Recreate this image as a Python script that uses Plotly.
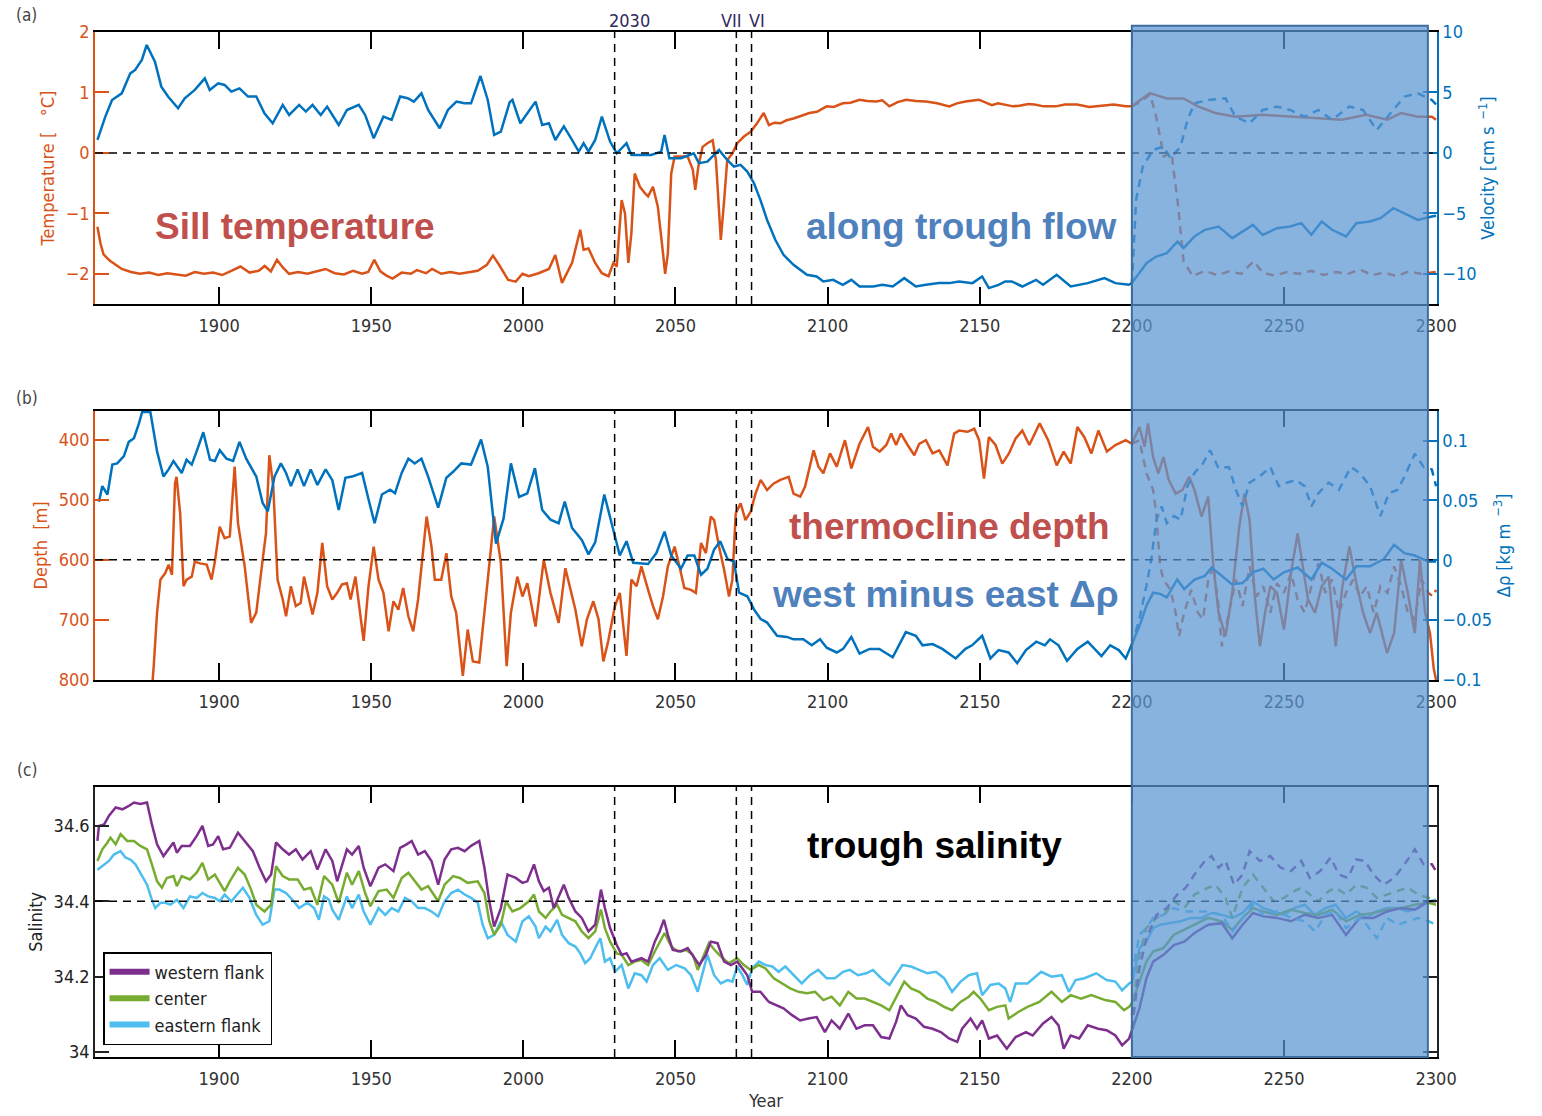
import plotly.graph_objects as go

ORANGE = '#D95319'
BLUE = '#0072BD'
PURPLE = '#7E2F8E'
GREEN = '#77AC30'
CYAN = '#4DBEEE'
TXT_RED = '#C0504D'
TXT_BLUE = '#4F81BD'
NARROW = "Liberation Sans Narrow, DejaVu Sans Condensed, Liberation Sans, sans-serif"
BOLD = "Liberation Sans, Arial, sans-serif"

X_TICKS = [1900, 1950, 2000, 2050, 2100, 2150, 2200, 2250, 2300]
EVENT_YEARS = [2030, 2070, 2075]
EVENT_LABELS = ["2030", "VII", "VI"]

# ---------------- panel (a): sill temperature (degC) ----------------
temp_years = [1860, 1861, 1862, 1864, 1866, 1868, 1871, 1874, 1877, 1880, 1883, 1886, 1889, 1892, 1895, 1898,
              1901, 1904, 1907, 1910, 1913, 1915, 1917, 1919, 1921, 1923, 1926, 1929, 1932, 1935, 1938, 1941,
              1944, 1947, 1949, 1951, 1953, 1955, 1957, 1960, 1963, 1965, 1968, 1970, 1973, 1976, 1979, 1982,
              1985, 1988, 1990, 1992, 1995, 1997.5, 1999.7, 2001.8, 2005, 2008.4, 2010.5, 2012.7, 2016, 2018.7,
              2019.8, 2021.4, 2023.6, 2025.8, 2028, 2029.6, 2030.7, 2032.3, 2033.4, 2034.5, 2035.5, 2036.6,
              2038.3, 2040, 2041, 2042.6, 2044.2, 2045.9, 2046.6, 2047.5, 2048.6, 2049.7, 2051.8, 2054, 2055.7,
              2056.5, 2057.5, 2058.9, 2060.5, 2062.2, 2063.3, 2064, 2064.9, 2066, 2067, 2068.7, 2070.3, 2072.5,
              2074.7, 2076.8, 2079, 2080.7, 2082.5, 2084.5, 2086.5, 2088.8, 2091, 2094, 2096.5, 2099.7, 2102,
              2105, 2107.5, 2110.5, 2113, 2116, 2118, 2120.3, 2123, 2125.8, 2129, 2132.3, 2136, 2140, 2142.5,
              2145.3, 2149.7, 2154, 2156, 2158, 2161, 2163, 2166, 2168, 2171, 2175, 2178, 2182, 2186, 2190, 2194,
              2198, 2200, 2205.9, 2211.5, 2217, 2221.7, 2227.4, 2234, 2243, 2252, 2260, 2269, 2277, 2284, 2288.5,
              2294, 2298.6, 2300]
temp_vals = [-1.22, -1.5, -1.68, -1.78, -1.85, -1.92, -1.97, -2.0, -1.98, -2.02, -1.99, -2.01, -2.03, -1.97, -2.0, -1.98,
             -2.02, -1.95, -1.88, -1.98, -1.95, -1.87, -1.96, -1.77, -1.9, -2.0, -1.97, -2.0, -1.96, -1.92, -1.99, -2.01,
             -1.95, -2.0, -1.97, -1.77, -1.96, -2.03, -2.08, -1.98, -2.0, -1.94, -1.99, -1.92, -2.0, -1.97, -2.0, -1.98,
             -1.95, -1.85, -1.7, -1.85, -2.1, -2.13, -2.0, -2.04, -1.99, -1.92, -1.69, -2.15, -1.82, -1.27,
             -1.6, -1.58, -1.82, -1.99, -2.04, -1.82, -1.88, -0.78, -1.0, -1.82, -1.33, -0.34,
             -0.56, -0.67, -0.72, -0.56, -0.89, -1.66, -2.0, -1.66, -0.34, -0.06, -0.06, -0.06, -0.28,
             -0.61, -0.23, 0.10, 0.16, 0.21, -0.12, -0.78, -1.44, -0.78, -0.12, -0.01, 0.16, 0.27,
             0.35, 0.49, 0.66, 0.46, 0.50, 0.49, 0.54, 0.57, 0.61, 0.66, 0.68, 0.77, 0.76,
             0.82, 0.83, 0.88, 0.86, 0.85, 0.87, 0.77, 0.84, 0.88, 0.86, 0.85, 0.82, 0.77, 0.82,
             0.85, 0.88, 0.79, 0.82, 0.80, 0.77, 0.78, 0.81, 0.80, 0.77, 0.77, 0.80, 0.80, 0.76, 0.78, 0.80,
             0.77, 0.77, 0.99, 0.90, 0.90, 0.77, 0.66, 0.60, 0.63, 0.60, 0.57, 0.55, 0.63, 0.55, 0.66,
             0.60, 0.60, 0.55]

temp_alt_years = [2200, 2203, 2206, 2208, 2210.5, 2213, 2215, 2217, 2220, 2224, 2228, 2232, 2236, 2240, 2243, 2247,
                  2251, 2255, 2259, 2263, 2267, 2271, 2275, 2279, 2283, 2287, 2291, 2295, 2300]
temp_alt_vals = [0.77, 0.85, 0.97, 0.6, -0.06, 0.0, -0.78, -1.79, -2.04, -1.95, -2.02, -1.96, -2.0, -1.79, -1.98, -2.03,
                 -1.97, -2.0, -1.95, -2.02, -1.97, -2.0, -1.93, -2.02, -1.98, -2.04, -1.96, -2.0, -1.97]

# ---------------- panel (a): along trough velocity (cm/s) ----------------
vel_years = [1860, 1862.6, 1864.8, 1868, 1870.8, 1872.4, 1874.6, 1876.2, 1878.9, 1881, 1883.2, 1886.5, 1888.7, 1892,
             1895.3, 1896.9, 1899.7, 1901.8, 1904, 1906.7, 1909.5, 1912.2, 1914.9, 1917.6, 1920.9, 1923, 1926.3,
             1928.5, 1930.7, 1933.4, 1935.5, 1939.3, 1942, 1945.9, 1948, 1950.8, 1954, 1956.7, 1959.5, 1962, 1964,
             1966.5, 1968.7, 1972.5, 1975.2, 1978, 1980.6, 1982.8, 1985.9, 1988.3, 1990.4, 1992.6, 1995.5, 1996.4,
             1999, 2001.3, 2004, 2006.2, 2008.4, 2010.5, 2013.3, 2016, 2018.2, 2019.8, 2021.4, 2023.6, 2025.8,
             2028.5, 2030.7, 2033.9, 2035.5, 2038.8, 2042, 2045.3, 2046.4, 2048, 2051.8, 2056, 2057.7, 2060.5,
             2062.7, 2064.3, 2067, 2069.2, 2071.4, 2073.6, 2075.8, 2077.9, 2080.1, 2082.8, 2085.5, 2088.8, 2093.2,
             2096.4, 2098.6, 2101.8, 2105, 2107.8, 2110.5, 2115, 2118, 2121.4, 2125.2, 2129, 2132.3, 2136.6, 2140,
             2143.2, 2147.6, 2150.8, 2153, 2156.2, 2158.4, 2160.5, 2164, 2168.5, 2170.8, 2175.3, 2179.9, 2185.5,
             2191, 2194.6, 2199, 2200, 2204.8, 2208, 2211.5, 2215, 2217, 2220.6, 2224, 2228.5, 2233, 2239.8, 2243,
             2247.7, 2252, 2255.7, 2259, 2262.4, 2265.8, 2270.4, 2273.8, 2278.3, 2281.7, 2286, 2290.6, 2294,
             2298.6, 2300]
vel_vals = [1.07, 3.0, 4.38, 4.93, 6.58, 6.86, 7.69, 8.93, 7.55, 5.48, 4.66, 3.69, 4.52, 5.21,
            6.17, 5.21, 5.76, 5.62, 5.07, 5.34, 4.66, 4.66, 3.28, 2.45, 3.97, 3.14, 3.97,
            3.42, 3.97, 3.14, 3.83, 2.31, 3.55, 3.97, 3.14, 1.21, 3.0, 2.73, 4.66, 4.52, 4.24,
            4.93, 3.55, 2.04, 3.55, 4.24, 4.1, 4.1, 6.36, 4.38, 1.49, 1.76, 4.2, 4.38,
            2.45, 3.28, 4.24, 2.31, 2.45, 1.07, 2.2, 1.07, 0.11, 0.8, 0.11, 1.07, 3.0,
            0.94, -0.03, 0.8, -0.17, -0.17, -0.17, 0.11, 1.49, -0.44, -0.44, -0.03, -0.85, -0.72,
            -0.17, 0.25, -0.58, -1.13, -0.99, -1.54, -2.51, -3.88, -5.54, -7.19, -8.43, -9.26, -10.08,
            -10.22, -10.63, -10.5, -10.91, -10.5, -11.05, -11.05, -10.91, -11.05, -10.36, -11.05, -10.91, -10.77, -10.77,
            -10.63, -10.77, -10.22, -11.18, -10.91, -10.63, -10.63, -11.05, -10.5, -10.91, -10.08, -11.05, -10.77,
            -10.36, -10.77, -10.91, -10.77, -9.12, -8.57, -8.29, -7.33, -7.88, -6.91, -6.36, -6.09, -7.05, -5.95, -6.78,
            -6.23, -6.09, -5.81, -6.78, -5.67, -6.36, -6.91, -5.81, -5.67, -5.4, -4.57, -5.12, -5.54,
            -5.26, -5.2]

vel_alt_years = [2200, 2201.4, 2203.6, 2207, 2210.4, 2212.7, 2216, 2218.3, 2220.6, 2225, 2230.8, 2234, 2238.7,
                 2243, 2247.7, 2252, 2256.8, 2261.3, 2265.8, 2271.5, 2276, 2280.5, 2285, 2289.6, 2294, 2298.6, 2300]
vel_alt_vals = [-10.9, -3.88, -1.13, 0.25, 0.52, -0.44, 0.52, 2.73, 4.1, 4.38, 4.52, 3.0, 2.45,
                3.55, 3.83, 3.55, 3.0, 3.55, 2.73, 3.83, 3.55, 1.9, 3.28, 4.66, 4.93, 4.38, 4.0]

# ---------------- panel (b): thermocline depth (m) ----------------
depth_years = [1860, 1876, 1878, 1878.5, 1879.6, 1880.7, 1882.3, 1883.4, 1884.5, 1885.5, 1886, 1887.2, 1888.3,
               1889.3, 1891, 1892, 1893.7, 1895.9, 1897.5, 1898.6, 1900.2, 1901.8, 1903.5, 1905.1, 1906.2, 1908.4,
               1910.5, 1912.2, 1914.3, 1915.4, 1916.5, 1917.8, 1919.2, 1920.9, 1922, 1923.6, 1925.2, 1926.8, 1927.9,
               1929.6, 1930.7, 1932.3, 1933.9, 1935.5, 1937.2, 1938.8, 1940.4, 1942, 1943.2, 1944.8, 1946.4, 1947.5,
               1949.1, 1950.8, 1952.4, 1954, 1955.7, 1957.3, 1958.9, 1960.5, 1962.2, 1963.8, 1965.4, 1968.2, 1969.8,
               1970.9, 1973, 1974.7, 1976.3, 1977.9, 1980.1, 1981.7, 1983.4, 1985.5, 1988.3, 1990.4, 1992.6, 1994.5,
               1995.9, 1998, 1999.7, 2001.3, 2004, 2006.7, 2008.9, 2011.6, 2013.8, 2017.1, 2019.2, 2020.9, 2023,
               2024.7, 2026.3, 2027.9, 2030.1, 2031.7, 2033.9, 2035.5, 2037.2, 2038.8, 2041, 2042.6, 2044.2, 2045.9,
               2047.5, 2049.7, 2051.3, 2052.9, 2055.1, 2056.7, 2058.4, 2060, 2061.6, 2062.7, 2064.3, 2066, 2067.6,
               2068.7, 2069.8, 2071.4, 2073, 2074.7, 2076.3, 2078, 2080.1, 2082.3, 2084.5, 2087.2, 2088.8, 2091,
               2092.6, 2095.4, 2097, 2098.6, 2100.8, 2103, 2105.7, 2107.8, 2110.5, 2113.3, 2114.9, 2117.1, 2119.3,
               2120.9, 2122.5, 2124.1, 2126.3, 2128.5, 2130.1, 2132.3, 2134.5, 2136.7, 2139.4, 2141.6, 2143.2, 2146,
               2148.2, 2149.8, 2151.4, 2153, 2155.2, 2157.4, 2159.6, 2161.8, 2164, 2166.3, 2169.7, 2172.5, 2175.3,
               2177.6, 2179.9, 2182.1, 2184.4, 2186.7, 2189, 2191.8, 2194.6, 2198, 2200, 2202.5, 2204.2, 2205.3,
               2207, 2208.7, 2210.4, 2212.1, 2214.4, 2216.6, 2218.9, 2220.6, 2222.9, 2225.1, 2226.8, 2228.5, 2230.8,
               2233, 2235.3, 2237, 2238.7, 2240.4, 2242.1, 2243.8, 2245.5, 2247.7, 2250, 2252.3, 2254.5, 2256.2,
               2257.9, 2260.2, 2262.4, 2264.7, 2267, 2269.2, 2271.5, 2273.8, 2276, 2278.3, 2280.5, 2283.9, 2286.2,
               2288.5, 2290.7, 2293, 2294.7, 2296.4, 2298, 2299.2, 2300]
depth_vals = [880, 860, 810, 777, 688, 633, 622, 608, 625, 473, 462, 523, 644,
              633, 628, 603, 606, 608, 633, 603, 545, 564, 561, 445, 539, 611,
              705, 688, 600, 556, 426, 478, 633, 666, 694, 644, 677, 672, 628,
              666, 691, 655, 572, 644, 666, 655, 641, 639, 666, 628, 688, 735,
              644, 578, 633, 655, 719, 669, 683, 647, 694, 719, 666, 528, 578,
              633, 633, 589, 661, 688, 793, 716, 769, 771, 633, 528, 605, 777,
              688, 628, 661, 639, 711, 600, 655, 705, 614, 683, 744, 699, 669,
              699, 769, 735, 677, 655, 760, 633, 644, 611, 650, 677, 699, 661,
              611, 578, 611, 647, 650, 655, 572, 589, 528, 534, 578, 617, 661,
              633, 523, 506, 534, 520, 490, 467, 484, 473, 467, 462, 490, 495,
              478, 418, 445, 456, 423, 445, 401, 448, 407, 379, 412, 420, 409,
              390, 409, 390, 409, 426, 407, 401, 423, 418, 443, 390, 385, 387,
              382, 401, 465, 396, 409, 440, 423, 398, 385, 409, 373, 401, 443,
              420, 440, 379, 396, 423, 385, 420, 409, 401, 407, 379, 412, 373,
              429, 456, 429, 467, 490, 484, 462, 484, 528, 495, 611, 688, 727,
              655, 545, 490, 534, 661, 744, 688, 644, 655, 716, 622, 556, 611,
              666, 688, 644, 628, 744, 644, 578, 639, 688, 722, 688, 755, 722,
              600, 655, 722, 600, 688, 722, 780, 800]

depth_alt_years = [2200, 2202.5, 2204.8, 2207, 2208, 2209.3, 2210.4, 2212.7, 2214.4, 2215.5, 2217.2, 2219.5, 2221.7,
                   2223.4, 2225.1, 2226.8, 2228.5, 2229.6, 2231.9, 2234.2, 2236.4, 2238.7, 2241, 2243.2, 2245.5,
                   2247.7, 2250, 2252.3, 2254.5, 2256.8, 2259, 2261.3, 2263.6, 2265.8, 2268.1, 2270.4, 2272.7,
                   2275, 2277.2, 2279.5, 2281.7, 2284, 2286.2, 2288.5, 2290.7, 2293, 2295.2, 2297.5, 2299, 2300]
depth_alt_vals = [407, 401, 456, 484, 523, 611, 633, 650, 688, 727, 688, 650, 688,
                  699, 633, 611, 677, 744, 688, 633, 677, 611, 661, 644, 688,
                  639, 655, 622, 666, 688, 644, 606, 655, 633, 688, 655, 633,
                  661, 644, 688, 644, 655, 611, 644, 688, 699, 633, 655, 661, 650]

# ---------------- panel (b): west minus east density difference (kg m^-3) ----------------
drho_years = [1860.5, 1861.6, 1863.3, 1864.9, 1866.5, 1868.7, 1870.3, 1872, 1873.6, 1874.7, 1877.4, 1879.6, 1881.7,
              1883.4, 1885, 1887.7, 1889.3, 1891, 1892.6, 1894.8, 1897, 1898.6, 1900.2, 1902.4, 1904.6, 1906.7,
              1908.9, 1910.5, 1912.2, 1914.3, 1916, 1918.2, 1920.3, 1922, 1923.6, 1925.8, 1927.9, 1930.1, 1932.3,
              1935, 1937.2, 1939.3, 1941.5, 1943.7, 1947, 1949.1, 1951.1, 1953.5, 1956.2, 1957.8, 1960, 1962.2,
              1964.3, 1966.5, 1968.7, 1972, 1974.7, 1976.9, 1979.6, 1982.8, 1986.1, 1988.3, 1991, 1993.5, 1995.9,
              1998.6, 2001.3, 2003.8, 2006.2, 2008.9, 2011.6, 2013.6, 2016, 2019.2, 2021.4, 2023.6, 2026.6, 2029,
              2031.7, 2033.9, 2036.1, 2041, 2043.7, 2046.4, 2048.6, 2051.8, 2054, 2056.2, 2058.4, 2060.5, 2062.7,
              2064.7, 2067.1, 2069.2, 2070.9, 2073.6, 2075.8, 2078, 2080.1, 2083.4, 2086.6, 2088.8, 2092, 2094.8,
              2097.5, 2099.7, 2103, 2105.1, 2107.8, 2110.5, 2113.8, 2117, 2121.4, 2125.7, 2129, 2131.2, 2134.5,
              2137.7, 2142.1, 2145.3, 2147.5, 2150.8, 2153.5, 2156.2, 2159.5, 2162.3, 2165.2, 2168.6, 2171.4,
              2173.1, 2175.9, 2178.7, 2182.1, 2185.5, 2187.8, 2190, 2192.9, 2195.7, 2198, 2200.2, 2202.5, 2204.8,
              2207, 2209.3, 2211.5, 2214.9, 2217.2, 2220.6, 2224, 2226.2, 2229.6, 2232.9, 2236.4, 2239.8, 2243.2,
              2246.6, 2250, 2254.5, 2259, 2262.4, 2265.8, 2270.4, 2273.8, 2278.3, 2282.8, 2286.2, 2289.6, 2293,
              2297.5, 2300]
drho_vals = [0.049, 0.062, 0.055, 0.080, 0.081, 0.087, 0.099, 0.102, 0.114, 0.124, 0.124, 0.091, 0.070,
             0.076, 0.083, 0.073, 0.084, 0.080, 0.091, 0.107, 0.084, 0.083, 0.092, 0.085, 0.083, 0.099,
             0.085, 0.078, 0.070, 0.048, 0.041, 0.070, 0.081, 0.073, 0.062, 0.076, 0.062, 0.076, 0.063,
             0.076, 0.067, 0.042, 0.069, 0.070, 0.073, 0.051, 0.031, 0.055, 0.059, 0.056, 0.073, 0.085,
             0.081, 0.085, 0.070, 0.044, 0.069, 0.074, 0.081, 0.080, 0.101, 0.078, 0.014, 0.035, 0.081,
             0.053, 0.056, 0.077, 0.042, 0.034, 0.031, 0.049, 0.027, 0.017, 0.005, 0.015, 0.055, 0.031,
             0.004, 0.016, -0.002, -0.003, 0.006, 0.024, 0.004, -0.007, 0.004, 0.004, -0.012, -0.007, 0.009,
             0.016, 0.001, -0.001, -0.027, -0.030, -0.041, -0.049, -0.052, -0.063, -0.064, -0.066, -0.066, -0.071,
             -0.066, -0.073, -0.077, -0.074, -0.064, -0.078, -0.074, -0.074, -0.081, -0.060, -0.063, -0.071, -0.070,
             -0.074, -0.082, -0.074, -0.071, -0.063, -0.082, -0.075, -0.077, -0.086, -0.075, -0.068, -0.071,
             -0.066, -0.071, -0.084, -0.074, -0.068, -0.074, -0.080, -0.071, -0.075, -0.082, -0.068, -0.055, -0.038,
             -0.027, -0.028, -0.031, -0.016, -0.024, -0.016, -0.013, -0.006, -0.013, -0.020, -0.019, -0.010, -0.007,
             -0.016, -0.010, -0.006, -0.016, -0.002, -0.007, -0.016, -0.005, -0.005, 0.001, 0.013, 0.006, 0.004,
             -0.001, -0.001]

drho_alt_years = [2200, 2202.5, 2204.8, 2206.4, 2208.1, 2209.8, 2211.5, 2213.8, 2216, 2218.3, 2220.6, 2223.4,
                  2225.7, 2228.5, 2231.9, 2234.2, 2236.4, 2238.7, 2242, 2245.5, 2248.3, 2251.1, 2253.9, 2256.8,
                  2259, 2261.3, 2264.7, 2268.1, 2272, 2274.9, 2278.3, 2281.7, 2284.5, 2287.4, 2289.6, 2293,
                  2295.9, 2298.6, 2300]
drho_alt_vals = [-0.071, -0.049, -0.021, 0.001, 0.034, 0.045, 0.031, 0.037, 0.034, 0.062, 0.073, 0.081,
                 0.092, 0.077, 0.078, 0.059, 0.045, 0.065, 0.070, 0.078, 0.062, 0.065, 0.067, 0.062,
                 0.045, 0.056, 0.065, 0.059, 0.078, 0.073, 0.062, 0.037, 0.056, 0.059, 0.070, 0.089,
                 0.078, 0.076, 0.062]

# ---------------- panel (c): trough salinity ----------------
west_years = [1860, 1860.5, 1862.2, 1863.8, 1866, 1868.2, 1870.3, 1872, 1874.1, 1876.3, 1877.9, 1879.6, 1881.7,
              1883.4, 1885, 1886.1, 1887.7, 1890.4, 1892.6, 1894.5, 1896.4, 1898, 1899.7, 1901.3, 1903.5, 1906.2,
              1908.4, 1911.1, 1913.3, 1915.4, 1917.1, 1918.7, 1920.9, 1923, 1925.2, 1927.4, 1930.1, 1932.3, 1935,
              1937.2, 1938.8, 1942, 1943.7, 1945.9, 1947.5, 1949.7, 1952.4, 1954.6, 1957.3, 1959.5, 1961.6, 1963.3,
              1965.4, 1967.6, 1969.8, 1972, 1974.1, 1976.3, 1978.5, 1980.7, 1982.8, 1985.5, 1987.2, 1988.8, 1990.4,
              1992.6, 1994.8, 1997.5, 1999.7, 2001.3, 2003.5, 2005.1, 2006.7, 2008.4, 2010, 2013.3, 2014.9, 2017.1,
              2019.2, 2021.4, 2023.6, 2025.5, 2026.8, 2028.5, 2030.7, 2032.3, 2033.9, 2035.5, 2038.8, 2041, 2043.2,
              2044.8, 2046.2, 2047.5, 2049.1, 2051.8, 2054, 2056.2, 2057.8, 2060, 2061.6, 2063.8, 2066, 2068.2,
              2070.3, 2072, 2073.6, 2075.2, 2077.9, 2080.7, 2083.4, 2085.5, 2088.3, 2091, 2093.7, 2096.4, 2099.1,
              2101.3, 2104, 2106.8, 2109.5, 2112.2, 2114.9, 2117.6, 2120.3, 2122.5, 2124.1, 2126.3, 2129, 2131.7,
              2134.5, 2137.2, 2139.9, 2142.6, 2144.2, 2147, 2149.1, 2150.8, 2153, 2155.7, 2158.9, 2161.8, 2165.2,
              2167.4, 2170.8, 2173.6, 2175.9, 2177.6, 2179.9, 2182.7, 2185.5, 2188.9, 2191.7, 2194.6, 2196.8,
              2199.1, 2200.2, 2202.5, 2204.8, 2207, 2210.4, 2213.8, 2217.2, 2220.6, 2225.1, 2229.6, 2233, 2236.4,
              2239.8, 2243.2, 2247.7, 2252.3, 2256.8, 2261.3, 2265.8, 2270.4, 2274.9, 2279.4, 2283.9, 2288.5, 2293,
              2297.5, 2300]
west_vals = [34.56, 34.60, 34.604, 34.627, 34.649, 34.644, 34.653, 34.662, 34.658, 34.662, 34.604, 34.551, 34.52,
             34.538, 34.556, 34.529, 34.547, 34.547, 34.573, 34.60, 34.547, 34.551, 34.573, 34.538, 34.542, 34.582,
             34.56, 34.533, 34.489, 34.453, 34.471, 34.556, 34.538, 34.524, 34.538, 34.511, 34.533, 34.484, 34.538,
             34.507, 34.453, 34.538, 34.524, 34.547, 34.489, 34.44, 34.489, 34.498, 34.48, 34.542, 34.551, 34.56,
             34.524, 34.533, 34.507, 34.444, 34.511, 34.538, 34.542, 34.533, 34.547, 34.56, 34.489, 34.40, 34.333,
             34.382, 34.471, 34.462, 34.449, 34.453, 34.498, 34.453, 34.427, 34.436, 34.382, 34.444, 34.409, 34.373,
             34.356, 34.32, 34.338, 34.431, 34.382, 34.329, 34.284, 34.258, 34.262, 34.24, 34.249, 34.24, 34.293,
             34.32, 34.351, 34.311, 34.271, 34.267, 34.276, 34.249, 34.231, 34.258, 34.293, 34.289, 34.24, 34.231,
             34.24, 34.222, 34.204, 34.16, 34.16, 34.133, 34.124, 34.116, 34.098, 34.084, 34.089, 34.093, 34.053,
             34.084, 34.062, 34.102, 34.062, 34.071, 34.071, 34.04, 34.036, 34.08, 34.124, 34.098, 34.089, 34.067,
             34.062, 34.053, 34.036, 34.027, 34.062, 34.089, 34.062, 34.084, 34.036, 34.044, 34.009, 34.04, 34.053,
             34.044, 34.076, 34.093, 34.071, 34.009, 34.044, 34.036, 34.071, 34.062, 34.058, 34.044, 34.018,
             34.036, 34.062, 34.116, 34.196, 34.24, 34.258, 34.284, 34.293, 34.316, 34.338, 34.342, 34.302, 34.338,
             34.369, 34.36, 34.356, 34.347, 34.364, 34.356, 34.364, 34.311, 34.356, 34.356, 34.373, 34.382, 34.378,
             34.40, 34.40]

center_years = [1860, 1861.6, 1863.3, 1864.3, 1866, 1867.6, 1869.8, 1872, 1874.1, 1876.3, 1877.9, 1879.6, 1881.2,
                1882.8, 1885, 1886.1, 1887.7, 1890.4, 1892.6, 1894.5, 1896.4, 1898.6, 1900.2, 1901.8, 1903.5, 1906.2,
                1908.4, 1910.5, 1912.2, 1914.9, 1917.1, 1918.7, 1920.9, 1923, 1925.8, 1927.9, 1930.1, 1932.3, 1934.5,
                1937.2, 1939.3, 1942, 1943.7, 1945.9, 1948, 1949.7, 1952.4, 1955.1, 1957.3, 1960, 1962.2, 1964.3,
                1966.5, 1968.7, 1972, 1974.1, 1976.9, 1979.1, 1981.7, 1985, 1987.2, 1988.8, 1990.4, 1992.6, 1994.3,
                1996.4, 1999, 2001.8, 2003.5, 2005.1, 2007.3, 2008.9, 2011.1, 2012.7, 2014.9, 2017.1, 2019.2, 2021.4,
                2023.6, 2025.5, 2026.8, 2028.5, 2030.7, 2032.3, 2034.5, 2036.6, 2038.8, 2041, 2043.2, 2044.8, 2046.4,
                2048.6, 2050.8, 2053.5, 2055.7, 2057.3, 2059.5, 2061, 2063.3, 2065.5, 2067.6, 2070.3, 2072.5, 2074.7,
                2077.4, 2079.6, 2082.3, 2085, 2087.7, 2090.4, 2093.2, 2095.9, 2098.6, 2101.3, 2104, 2106.8, 2109.5,
                2112.2, 2114.9, 2117.6, 2120.3, 2123, 2125.2, 2127.4, 2130.1, 2132.8, 2135.6, 2138.3, 2140.9, 2143.7,
                2146.4, 2148, 2150.2, 2153, 2155.7, 2158.4, 2159.5, 2162.8, 2165.7, 2169.6, 2173.6, 2177, 2179.9,
                2183.3, 2186.7, 2191.2, 2194.6, 2197.4, 2199.1, 2200.2, 2202.5, 2204.8, 2207, 2210.4, 2213.8, 2217.2,
                2220.6, 2225.1, 2229.6, 2233, 2236.4, 2239.8, 2243.2, 2247.7, 2252.3, 2256.8, 2261.3, 2265.8, 2270.4,
                2274.9, 2279.4, 2283.9, 2288.5, 2293, 2297.5, 2300]
center_vals = [34.507, 34.538, 34.556, 34.569, 34.551, 34.578, 34.56, 34.56, 34.547, 34.538, 34.498, 34.453, 34.436,
               34.462, 34.467, 34.44, 34.467, 34.458, 34.476, 34.502, 34.458, 34.471, 34.449, 34.427, 34.453, 34.489,
               34.471, 34.431, 34.391, 34.373, 34.391, 34.493, 34.467, 34.458, 34.458, 34.431, 34.436, 34.391, 34.467,
               34.444, 34.396, 34.476, 34.444, 34.48, 34.422, 34.387, 34.427, 34.431, 34.409, 34.462, 34.476, 34.453,
               34.431, 34.44, 34.40, 34.444, 34.467, 34.462, 34.449, 34.453, 34.422, 34.347, 34.311, 34.338, 34.40,
               34.373, 34.382, 34.40, 34.418, 34.373, 34.356, 34.373, 34.391, 34.364, 34.356, 34.347, 34.32, 34.302,
               34.32, 34.378, 34.329, 34.293, 34.262, 34.258, 34.231, 34.24, 34.244, 34.231, 34.267, 34.293, 34.316,
               34.28, 34.267, 34.271, 34.258, 34.218, 34.258, 34.289, 34.267, 34.249, 34.236, 34.249, 34.231, 34.218,
               34.231, 34.222, 34.196, 34.182, 34.169, 34.16, 34.156, 34.16, 34.138, 34.147, 34.124, 34.16, 34.142,
               34.142, 34.133, 34.124, 34.111, 34.151, 34.187, 34.169, 34.16, 34.142, 34.133, 34.12, 34.111, 34.133,
               34.147, 34.16, 34.142, 34.111, 34.12, 34.124, 34.089, 34.107, 34.12, 34.133, 34.16, 34.133, 34.151,
               34.142, 34.151, 34.138, 34.133, 34.111, 34.12, 34.133, 34.187, 34.24, 34.267, 34.276, 34.311, 34.324,
               34.338, 34.356, 34.347, 34.324, 34.356, 34.382, 34.373, 34.364, 34.378, 34.369, 34.364, 34.378, 34.347,
               34.364, 34.369, 34.378, 34.382, 34.391, 34.396, 34.391]

east_years = [1860, 1861.6, 1863.8, 1865.4, 1867.6, 1869.2, 1870.8, 1872.5, 1874, 1876.3, 1877.9, 1879, 1880.7,
              1882.3, 1884, 1886.1, 1888.3, 1890.4, 1892.6, 1894.5, 1896.4, 1898.6, 1900.2, 1901.8, 1904, 1906.2,
              1907.8, 1910, 1912.2, 1914.3, 1916.5, 1918.2, 1919.8, 1922, 1924.1, 1926.3, 1929, 1931.2, 1932.8,
              1934.5, 1936.1, 1937.2, 1939.3, 1942, 1943.7, 1945.9, 1947.5, 1949.7, 1952.4, 1954.6, 1956.7, 1958.9,
              1961.1, 1963.3, 1965.4, 1967.6, 1969.8, 1972, 1974.1, 1976.3, 1978.5, 1980.7, 1982.8, 1985, 1986.6,
              1988.3, 1990.4, 1992.6, 1994.8, 1997.5, 1999.7, 2001.8, 2004, 2005.1, 2007.3, 2008.9, 2011.1, 2012.7,
              2014.9, 2017.1, 2018.7, 2020.3, 2022, 2023.6, 2025.3, 2026.8, 2028.5, 2030.1, 2032.3, 2034.5, 2036.6,
              2038.8, 2040.5, 2042.6, 2044.8, 2047.5, 2050.2, 2053, 2055.1, 2057.3, 2059.5, 2060.5, 2062.7, 2064.9,
              2067.1, 2068.7, 2070.3, 2072, 2073.6, 2075.2, 2077.4, 2079.6, 2081.8, 2083.9, 2086.1, 2088.8, 2091.5,
              2094.2, 2096.9, 2099.7, 2102.4, 2105.1, 2107.3, 2110, 2112.7, 2114.9, 2117.6, 2120.3, 2122.5, 2124.6,
              2127.4, 2130.1, 2132.8, 2135.6, 2138.3, 2140.9, 2143.7, 2146.4, 2149.1, 2150.8, 2153.5, 2156.2, 2158.4,
              2160, 2161.8, 2165.7, 2170.2, 2173.6, 2177, 2179.3, 2181.5, 2184.4, 2188.3, 2191.7, 2194.6, 2196.8,
              2199.1, 2200.2, 2202.5, 2204.8, 2207, 2209.3, 2212.7, 2216, 2219.5, 2222.9, 2226.2, 2229.6, 2233,
              2236.4, 2239.8, 2243.2, 2246.6, 2250, 2253.4, 2256.8, 2260.2, 2263.6, 2267, 2270.4, 2273.8, 2277.1,
              2280.5, 2283.9, 2287.3, 2290.7, 2294.1, 2297.5, 2300]
east_vals = [34.484, 34.493, 34.507, 34.524, 34.533, 34.516, 34.511, 34.498, 34.476, 34.444, 34.404, 34.382, 34.396,
             34.396, 34.391, 34.404, 34.382, 34.413, 34.409, 34.422, 34.413, 34.409, 34.40, 34.418, 34.40, 34.422,
             34.436, 34.409, 34.364, 34.338, 34.347, 34.431, 34.431, 34.422, 34.404, 34.382, 34.396, 34.382, 34.351,
             34.413, 34.404, 34.378, 34.351, 34.413, 34.382, 34.418, 34.373, 34.338, 34.382, 34.364, 34.382, 34.373,
             34.409, 34.40, 34.382, 34.382, 34.373, 34.36, 34.40, 34.422, 34.431, 34.418, 34.409, 34.396, 34.338,
             34.302, 34.311, 34.347, 34.311, 34.293, 34.347, 34.36, 34.333, 34.302, 34.333, 34.32, 34.351, 34.311,
             34.289, 34.28, 34.262, 34.236, 34.249, 34.276, 34.302, 34.24, 34.249, 34.213, 34.231, 34.169, 34.209,
             34.204, 34.187, 34.231, 34.249, 34.218, 34.231, 34.222, 34.204, 34.16, 34.227, 34.258, 34.204, 34.182,
             34.191, 34.187, 34.227, 34.204, 34.178, 34.222, 34.24, 34.231, 34.227, 34.213, 34.227, 34.204, 34.182,
             34.204, 34.218, 34.196, 34.196, 34.213, 34.218, 34.204, 34.209, 34.218, 34.196, 34.178, 34.204, 34.231,
             34.227, 34.218, 34.209, 34.213, 34.196, 34.16, 34.187, 34.204, 34.209, 34.151, 34.178, 34.182, 34.169,
             34.133, 34.182, 34.182, 34.213, 34.2, 34.204, 34.16, 34.191, 34.196, 34.209, 34.191, 34.187, 34.164,
             34.182, 34.187, 34.276, 34.293, 34.329, 34.338, 34.342, 34.347, 34.356, 34.356, 34.369, 34.364, 34.356,
             34.369, 34.40, 34.382, 34.373, 34.364, 34.382, 34.391, 34.364, 34.382, 34.391, 34.356, 34.373, 34.356,
             34.373, 34.382, 34.382, 34.373, 34.382, 34.40, 34.404]

west_alt_years = [2200, 2202.5, 2204.8, 2208.1, 2211.5, 2214.9, 2217.7, 2220.6, 2224, 2226.2, 2228.5, 2230.8, 2233.6,
                  2236.4, 2238.7, 2242.1, 2245.5, 2248.9, 2252.3, 2255.7, 2258.5, 2261.9, 2265.3, 2268.1, 2271,
                  2273.8, 2276.6, 2279.4, 2282.8, 2286.2, 2289.6, 2293, 2295.9, 2298.6, 2300]
west_alt_vals = [34.062, 34.222, 34.302, 34.364, 34.382, 34.418, 34.436, 34.471, 34.507, 34.52, 34.489, 34.507, 34.444,
                 34.471, 34.533, 34.507, 34.52, 34.489, 34.48, 34.507, 34.462, 34.48, 34.516, 34.471, 34.462,
                 34.511, 34.507, 34.471, 34.444, 34.462, 34.498, 34.538, 34.498, 34.498, 34.48]
center_alt_years = [2200, 2202.5, 2204.8, 2208.1, 2211.5, 2213.8, 2217.2, 2220.6, 2225.1, 2227.4, 2230.8, 2233,
                    2236.4, 2239.8, 2243.2, 2246.6, 2250, 2253.4, 2255.7, 2258.5, 2261.3, 2264.7, 2267, 2270.4,
                    2273.8, 2277.2, 2280.5, 2283.9, 2287.3, 2290.7, 2294.1, 2297.5, 2300]
center_alt_vals = [34.098, 34.258, 34.329, 34.356, 34.373, 34.40, 34.382, 34.418, 34.436, 34.444, 34.409, 34.356,
                   34.436, 34.471, 34.436, 34.40, 34.409, 34.427, 34.436, 34.418, 34.40, 34.427, 34.436, 34.418,
                   34.444, 34.436, 34.409, 34.418, 34.427, 34.436, 34.418, 34.409, 34.40]
east_alt_years = [2200, 2202.5, 2204.8, 2207, 2210.4, 2213.8, 2217.2, 2220.6, 2225.1, 2229.6, 2233, 2236.4, 2239.8,
                  2243.2, 2247.7, 2252.3, 2256.8, 2260.2, 2263.6, 2267, 2270.4, 2274.9, 2277.2, 2280.5, 2283.9,
                  2287.3, 2290.7, 2294.1, 2297.5, 2300]
east_alt_vals = [34.204, 34.311, 34.329, 34.356, 34.364, 34.382, 34.373, 34.373, 34.373, 34.364, 34.32, 34.356, 34.391,
                 34.364, 34.373, 34.356, 34.347, 34.32, 34.364, 34.373, 34.329, 34.356, 34.338, 34.302, 34.356,
                 34.338, 34.347, 34.356, 34.347, 34.338]

SERIES_NAMES = ["western flank", "center", "eastern flank"]

# ---------------- figure ----------------
DOM_A = [0.7346, 1.0]
DOM_B = [0.3678, 0.6305]
DOM_C = [0.0, 0.2637]

fig = go.Figure()


def add_line(x, y, color, xa, ya, dash='solid', width=2.5):
    fig.add_trace(go.Scatter(x=x, y=y, mode='lines', line=dict(color=color, width=width, dash=dash),
                             xaxis=xa, yaxis=ya, showlegend=False, hoverinfo='skip'))


# panel a
add_line(temp_years, temp_vals, ORANGE, 'x', 'y')
add_line(temp_alt_years, temp_alt_vals, ORANGE, 'x', 'y', dash='8px,6px')
add_line(vel_years, vel_vals, BLUE, 'x', 'y2')
add_line(vel_alt_years, vel_alt_vals, BLUE, 'x', 'y2', dash='8px,6px')
# panel b
add_line(depth_years, depth_vals, ORANGE, 'x2', 'y3')
add_line(depth_alt_years, depth_alt_vals, ORANGE, 'x2', 'y3', dash='8px,6px')
add_line(drho_years, drho_vals, BLUE, 'x2', 'y4')
add_line(drho_alt_years, drho_alt_vals, BLUE, 'x2', 'y4', dash='8px,6px')
# panel c
add_line(east_years, east_vals, CYAN, 'x3', 'y5')
add_line(center_years, center_vals, GREEN, 'x3', 'y5')
add_line(west_years, west_vals, PURPLE, 'x3', 'y5')
add_line(east_alt_years, east_alt_vals, CYAN, 'x3', 'y5', dash='8px,6px')
add_line(center_alt_years, center_alt_vals, GREEN, 'x3', 'y5', dash='8px,6px')
add_line(west_alt_years, west_alt_vals, PURPLE, 'x3', 'y5', dash='8px,6px')

# legend entries
for name, col in zip(SERIES_NAMES, [PURPLE, GREEN, CYAN]):
    fig.add_trace(go.Scatter(x=[None], y=[None], mode='lines', name=name, line=dict(color=col, width=6),
                             xaxis='x3', yaxis='y5', showlegend=True))

TICKFONT = dict(family=NARROW, size=18, color='#333333')


def xaxis(anchor, title=None):
    d = dict(anchor=anchor, domain=[0, 1], range=[1859.2, 2300.3], tickvals=X_TICKS,
             ticks='inside', ticklen=17, tickwidth=1.5, tickcolor='black', ticklabelstandoff=5,
             showline=True, linecolor='black', linewidth=1.5, mirror='ticks', automargin=False,
             showgrid=False, zeroline=False, tickfont=TICKFONT)
    if title:
        d['title'] = dict(text=title, font=dict(family=NARROW, size=18, color='#333333'), standoff=6)
    return d


def yaxis(domain, anchor, rng, tv, tt, color, title, side='left', overlaying=None, mirror=False):
    d = dict(anchor=anchor, range=rng, tickvals=tv, ticktext=tt, ticks='inside', ticklen=14,
             tickwidth=1.5, tickcolor=color, showline=True, linecolor=color, linewidth=1.5,
             showgrid=False, zeroline=False, side=side, automargin=False,
             tickfont=dict(family=NARROW, size=18, color=color),
             title=dict(text=title, font=dict(family=NARROW, size=18, color=color), standoff=6))
    if overlaying:
        d['overlaying'] = overlaying
    else:
        d['domain'] = domain
    if mirror:
        d['mirror'] = 'ticks'
    return d


layout = dict(
    width=1542, height=1116,
    margin=dict(l=95, r=105, t=32, b=59),
    plot_bgcolor='white', paper_bgcolor='white',
    xaxis=xaxis('y'),
    xaxis2=xaxis('y3'),
    xaxis3=xaxis('y5', 'Year'),
    yaxis=yaxis(DOM_A, 'x', [-2.5, 2], [-2, -1, 0, 1, 2], ['−2', '−1', '0', '1', '2'], ORANGE,
                'Temperature [   °C]'),
    yaxis2=yaxis(None, 'x', [-12.5, 10], [-10, -5, 0, 5, 10], ['−10', '−5', '0', '5', '10'], BLUE,
                 'Velocity [cm s<sup>  −1</sup>]', side='right', overlaying='y'),
    yaxis3=yaxis(DOM_B, 'x2', [800, 352], [400, 500, 600, 700, 800], ['400', '500', '600', '700', '800'],
                 ORANGE, 'Depth  [m]'),
    yaxis4=yaxis(None, 'x2', [-0.1, 0.125], [-0.1, -0.05, 0, 0.05, 0.1], ['−0.1', '−0.05', '0', '0.05', '0.1'],
                 BLUE, 'Δρ [kg m<sup>  −3</sup>]', side='right', overlaying='y3'),
    yaxis5=yaxis(DOM_C, 'x3', [33.987, 34.704], [34.0, 34.2, 34.4, 34.6], ['34', '34.2', '34.4', '34.6'],
                 '#222222', 'Salinity', mirror=True),
    showlegend=True,
    legend=dict(x=0.006, y=0.1024, xanchor='left', yanchor='top', bgcolor='white', bordercolor='black',
                borderwidth=1.5, font=dict(family=NARROW, size=18, color='#222222'), tracegroupgap=0,
                itemwidth=40),
)
fig.update_layout(**layout)

shapes = []
DASH = dict(color='black', width=1.5, dash='8px,6px')
# horizontal reference lines
shapes.append(dict(type='line', xref='x domain', yref='y', x0=0, x1=1, y0=0, y1=0, line=DASH))
shapes.append(dict(type='line', xref='x2 domain', yref='y3', x0=0, x1=1, y0=600, y1=600, line=DASH))
shapes.append(dict(type='line', xref='x3 domain', yref='y5', x0=0, x1=1, y0=34.4, y1=34.4, line=DASH))
# vertical event lines
for yr in EVENT_YEARS:
    for xa, ya in [('x', 'y'), ('x2', 'y3'), ('x3', 'y5')]:
        shapes.append(dict(type='line', xref=xa, yref=ya + ' domain', x0=yr, x1=yr, y0=0, y1=1, line=DASH))
# shaded window
shapes.append(dict(type='rect', xref='x', yref='paper', x0=2200, x1=2297.3, y0=0, y1=1.006,
                   fillcolor='rgba(92,150,210,0.72)', line=dict(color='#3E6E9E', width=2), layer='above'))
fig.update_layout(shapes=shapes)

ann = []
for lab, yr, shift in zip(EVENT_LABELS, EVENT_YEARS, [0, -5, 5]):
    ann.append(dict(text=lab, x=yr, xref='x', y=1.0117, yref='paper', showarrow=False, yanchor='middle',
                    xanchor='left' if lab == '2030' else 'center', xshift=-8 if lab == '2030' else shift,
                    font=dict(family=NARROW, size=18, color='#2f2a5e')))
for lab, yy in [('(a)', 1.0166), ('(b)', 0.6429), ('(c)', 0.28)]:
    ann.append(dict(text=lab, x=-0.0507, xref='paper', y=yy, yref='paper', showarrow=False,
                    xanchor='center', yanchor='middle',
                    font=dict(family=NARROW, size=17, color='#444444')))
BIG = [('Sill temperature', 0.149, 0.8098, TXT_RED),
       ('along trough flow', 0.646, 0.8098, TXT_BLUE),
       ('thermocline depth', 0.6367, 0.5171, TXT_RED),
       ('west minus east Δρ', 0.6334, 0.4517, TXT_BLUE),
       ('trough salinity', 0.6256, 0.2059, 'black')]
for txt, xx, yy, col in BIG:
    ann.append(dict(text='<b>' + txt + '</b>', x=xx, y=yy, xref='paper', yref='paper', showarrow=False,
                    xanchor='center', yanchor='middle',
                    font=dict(family=BOLD, size=37, color=col)))
fig.update_layout(annotations=ann)

fig.write_html("out.html", config={'displayModeBar': False},
               post_script="document.body.style.margin='0px'; document.body.style.overflow='hidden';")
